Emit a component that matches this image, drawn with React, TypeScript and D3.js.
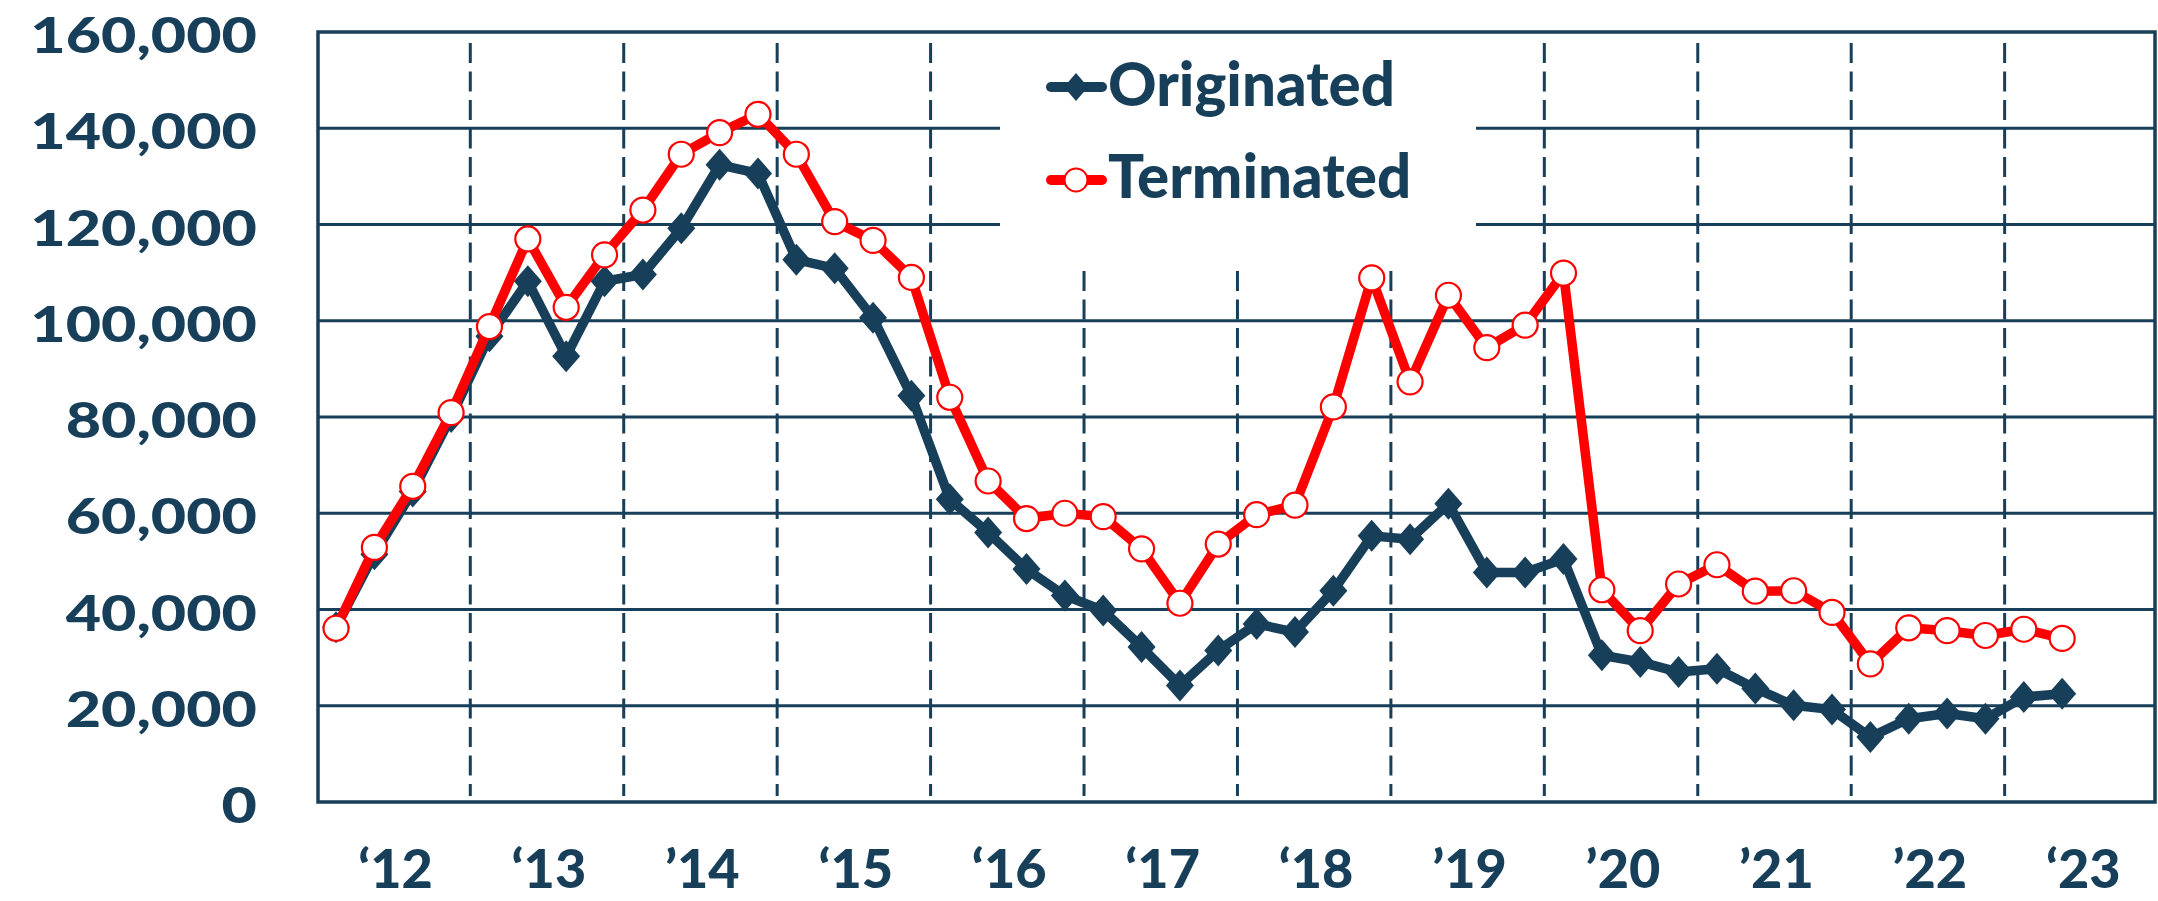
import * as d3 from 'd3';

// quarterly, 2012 Q1 .. 2023 Q2
const quarters = [
  "2012Q1", "2012Q2", "2012Q3", "2012Q4",
  "2013Q1", "2013Q2", "2013Q3", "2013Q4",
  "2014Q1", "2014Q2", "2014Q3", "2014Q4",
  "2015Q1", "2015Q2", "2015Q3", "2015Q4",
  "2016Q1", "2016Q2", "2016Q3", "2016Q4",
  "2017Q1", "2017Q2", "2017Q3", "2017Q4",
  "2018Q1", "2018Q2", "2018Q3", "2018Q4",
  "2019Q1", "2019Q2", "2019Q3", "2019Q4",
  "2020Q1", "2020Q2", "2020Q3", "2020Q4",
  "2021Q1", "2021Q2", "2021Q3", "2021Q4",
  "2022Q1", "2022Q2", "2022Q3", "2022Q4",
  "2023Q1", "2023Q2",
];

const originated = [
  36300, 51500, 64500, 80000,
  96800, 108200, 92600, 108200,
  109600, 119200, 132400, 130600,
  112700, 110900, 100600, 84400,
  62900, 56000, 48400, 42900,
  39800, 32200, 24200, 31500,
  37000, 35300, 43900, 55300,
  54600, 62000, 47700, 47700,
  50500, 30500, 29100, 27000,
  27700, 23600, 20100, 19200,
  13500, 17300, 18400, 17300,
  21800, 22500,
];

const terminated = [
  36100, 52900, 65600, 80900,
  98800, 117000, 102800, 113700,
  123000, 134600, 139100, 142900,
  134600, 120600, 116700, 109000,
  84100, 66700, 58900, 60000,
  59300, 52600, 41300, 53600,
  59700, 61700, 82100, 108900,
  87300, 105300, 94400, 99100,
  109900, 44100, 35600, 45300,
  49300, 43800, 43900, 39400,
  28700, 36200, 35600, 34600,
  35900, 34000,
];

const yTicks = [0, 20000, 40000, 60000, 80000, 100000, 120000, 140000, 160000];
const yearLabels = ["‘12", "‘13", "’14", "‘15", "‘16", "‘17", "‘18", "’19", "’20", "’21", "’22", "‘23"];

const navy = "#173f5a";
const red = "#ff0000";
const font = "Lato, 'Open Sans', sans-serif";

export default function App() {
  const width = 2158;
  const height = 901;

  const x = d3.scaleLinear().domain([-0.47, quarters.length + 1.42]).range([318, 2155]);
  const y = d3.scaleLinear().domain([0, 160000]).range([802, 32]);

  const line = d3.line<number>()
    .x((d, i) => x(i))
    .y(d => y(d));

  // year separators sit between Q4 and the next Q1
  const yearBreaks = yearLabels.slice(1).map((_, k) => x(4 * (k + 1) - 0.5));
  const diamond = "M0,-16L14,0L0,16L-14,0Z";

  const legend = { x: 1000, y: 34, w: 476, h: 229 };

  return (
    <div style={{ position: 'absolute', left: 0, top: 0 }}>
      <svg width={width} height={height} style={{ display: 'block', background: '#fff' }}>
        {/* horizontal grid */}
        {yTicks.slice(1, -1).map(t => (
          <line key={t} x1={x.range()[0]} x2={x.range()[1]} y1={y(t)} y2={y(t)}
            stroke={navy} strokeWidth={3} />
        ))}
        {/* dashed year separators */}
        {yearBreaks.map((bx, i) => (
          <line key={i} x1={bx} x2={bx} y1={43} y2={796}
            stroke={navy} strokeWidth={3} strokeDasharray="20 8.5" />
        ))}

        {/* legend box covers grid */}
        <rect x={legend.x} y={legend.y} width={legend.w} height={legend.h} fill="#fff" />

        {/* frame */}
        <rect x={x.range()[0]} y={y(160000)} width={x.range()[1] - x.range()[0]}
          height={y(0) - y(160000)} fill="none" stroke={navy} strokeWidth={3.5} />

        {/* y labels */}
        {yTicks.map(t => (
          <g key={t} transform={`translate(257,${y(t) + 21}) scale(1.22,1)`}>
            <text textAnchor="end" fontFamily={font} fontWeight={900} fontSize={50} fill={navy}>
              {d3.format(",")(t)}
            </text>
          </g>
        ))}

        {/* x labels, centred on each year */}
        {yearLabels.map((lab, k) => (
          <text key={lab} x={x(4 * k + 1.55)} y={888} textAnchor="middle"
            fontFamily={font} fontWeight={900} fontSize={54} fill={navy}>
            {lab}
          </text>
        ))}

        {/* Originated */}
        <path d={line(originated) || ""} fill="none" stroke={navy} strokeWidth={9.5}
          strokeLinejoin="round" />
        {originated.map((v, i) => (
          <path key={i} d={diamond} transform={`translate(${x(i)},${y(v)})`} fill={navy} />
        ))}

        {/* Terminated */}
        <path d={line(terminated) || ""} fill="none" stroke={red} strokeWidth={9.5}
          strokeLinejoin="round" />
        {terminated.map((v, i) => (
          <circle key={i} cx={x(i)} cy={y(v)} r={12.5} fill="#fff" stroke={red} strokeWidth={2.2} />
        ))}

        {/* legend */}
        <line x1={1051} x2={1102} y1={87} y2={87} stroke={navy} strokeWidth={10} strokeLinecap="round" />
        <path d="M0,-14L12,0L0,14L-12,0Z" transform="translate(1076,87)" fill={navy} />
        <text x={1108} y={106} fontFamily={font} fontWeight={900} fontSize={60} fill={navy}>Originated</text>

        <line x1={1051} x2={1102} y1={180} y2={180} stroke={red} strokeWidth={10} strokeLinecap="round" />
        <circle cx={1076} cy={180} r={11.5} fill="#fff" stroke={red} strokeWidth={2} />
        <text x={1108} y={198} fontFamily={font} fontWeight={900} fontSize={60} fill={navy}>Terminated</text>
      </svg>
    </div>
  );
}
